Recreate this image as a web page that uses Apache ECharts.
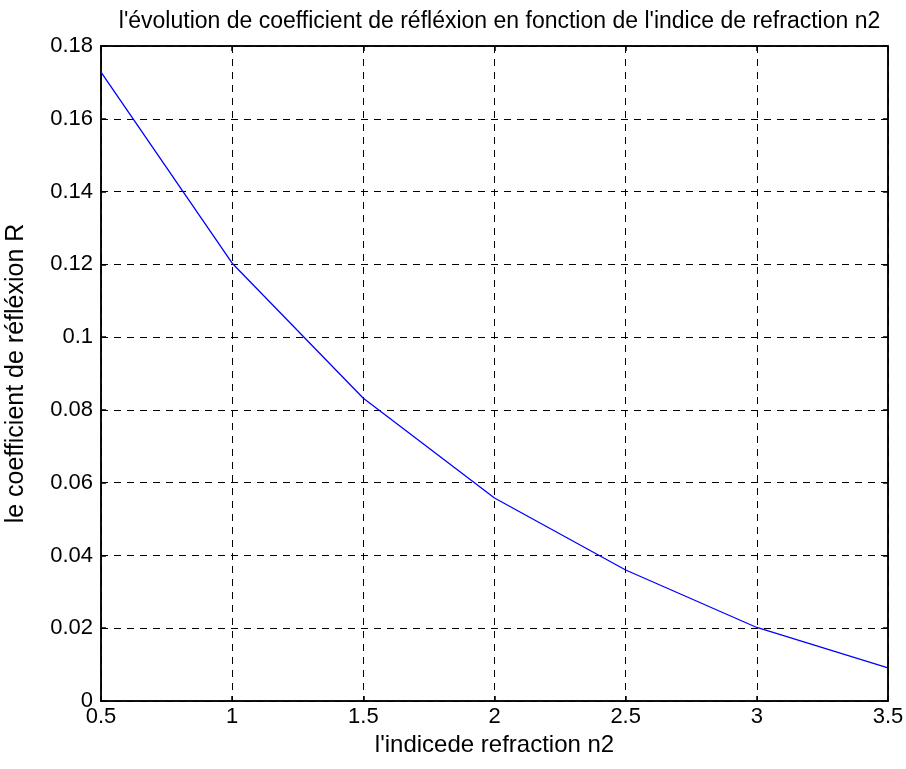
<!DOCTYPE html>
<html><head><meta charset="utf-8">
<script src="https://cdn.jsdelivr.net/npm/echarts@6/dist/echarts.min.js"></script>
<style>html,body{margin:0;padding:0;background:#fff}#c{width:906px;height:769px}</style>
</head><body><div id="c"></div>
<script>
const nValues = [0.5, 1, 1.5, 2, 2.5, 3, 3.5];
const rValues = [0.1728, 0.1203, 0.0832, 0.0558, 0.0360, 0.0202, 0.0091];
const titleText = "l'évolution de coefficient de réfléxion en fonction de l'indice de refraction n2";
const xName = "l'indicede refraction n2";
const yName = "le coefficient de réfléxion R";

const font = 'Liberation Sans, Arial, sans-serif';
const chart = echarts.init(document.getElementById('c'), null, {renderer: 'canvas'});
const gridLine = {show: true, lineStyle: {color: '#000', type: [7, 6], width: 1}};
chart.setOption({
  animation: false,
  backgroundColor: '#fff',
  title: {text: titleText, left: 494.5, textAlign: 'center', top: 5,
    textStyle: {fontFamily: font, fontSize: 23, fontWeight: 'normal', color: '#000'}},
  grid: {left: 101, right: 18, top: 46, bottom: 68, containLabel: false,
    outerBoundsMode: 'none',
    show: true, borderColor: '#000', borderWidth: 1.5},
  xAxis: [{
    type: 'value', min: 0.5, max: 3.5, interval: 0.5,
    name: xName, nameLocation: 'middle', nameGap: 30,
    nameTextStyle: {fontFamily: font, fontSize: 24, color: '#000'},
    axisLine: {show: true, onZero: false, lineStyle: {color: '#000', width: 1.5}},
    axisTick: {show: true, inside: true, length: 5, lineStyle: {color: '#000', width: 1.5}},
    axisLabel: {fontFamily: font, fontSize: 22, color: '#000', margin: 5},
    splitLine: gridLine
  }, {
    type: 'value', position: 'top', min: 0.5, max: 3.5, interval: 0.5,
    axisLine: {show: true, onZero: false, lineStyle: {color: '#000', width: 1.5}},
    axisTick: {show: true, inside: true, length: 5, lineStyle: {color: '#000', width: 1.5}},
    axisLabel: {show: false}, splitLine: {show: false}
  }],
  yAxis: [{
    type: 'value', min: 0, max: 0.18, interval: 0.02,
    name: yName, nameLocation: 'middle', nameGap: 72, nameRotate: 90,
    nameTextStyle: {fontFamily: font, fontSize: 25, color: '#000'},
    axisLine: {show: true, onZero: false, lineStyle: {color: '#000', width: 1.5}},
    axisTick: {show: true, inside: true, length: 5, lineStyle: {color: '#000', width: 1.5}},
    axisLabel: {fontFamily: font, fontSize: 22, color: '#000', margin: 8,
      formatter: v => String(+v.toFixed(2))},
    splitLine: gridLine
  }, {
    type: 'value', position: 'right', min: 0, max: 0.18, interval: 0.02,
    axisLine: {show: true, onZero: false, lineStyle: {color: '#000', width: 1.5}},
    axisTick: {show: true, inside: true, length: 5, lineStyle: {color: '#000', width: 1.5}},
    axisLabel: {show: false}, splitLine: {show: false}
  }],
  series: [{
    type: 'line', xAxisIndex: 0, yAxisIndex: 0,
    data: nValues.map((n, i) => [n, rValues[i]]),
    showSymbol: false, symbol: 'none',
    lineStyle: {color: '#0000ff', width: 1.3}
  }]
});
</script></body></html>
